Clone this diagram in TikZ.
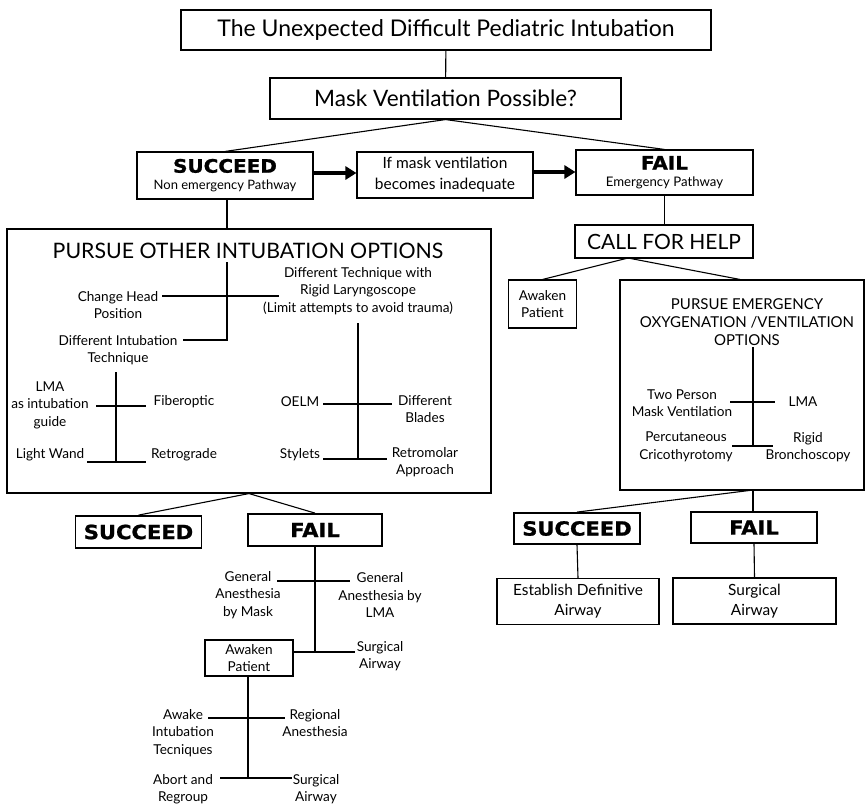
\documentclass[tikz,border=0pt]{standalone}
\usepackage{fontspec}
\setmainfont{Lato}
\newfontfamily\heavy{DejaVu Sans}[FakeStretch=1.08, FakeBold=1.2]
\usetikzlibrary{arrows.meta}
\begin{document}
\begin{tikzpicture}[x=1pt,y=-1pt,
  box/.style={draw, line width=1.1pt, inner sep=0pt, align=center},
  bbox/.style={draw, line width=1.8pt, inner sep=0pt, align=center},
  lab/.style={align=center, inner sep=0pt, font=\fontsize{13.6}{17.5}\selectfont},
  con/.style={line width=1.1pt},
  flow/.style={line width=3.2pt, -{Triangle[length=11pt,width=13pt]}},
  bigb/.style={font=\fontsize{19.5}{22}\selectfont\heavy\bfseries},
]
\useasboundingbox (0,0) rectangle (866,806);

% ---------- top of the chart ----------
\node[box, minimum width=530pt, minimum height=40pt, font=\fontsize{23}{26}\selectfont] (title) at (446,30)
  {The Unexpected Difficult Pediatric Intubation};
\node[box, minimum width=351pt, minimum height=41pt, font=\fontsize{22.6}{26}\selectfont] (mask) at (445.5,98.5)
  {Mask Ventilation Possible?};

\node[box, minimum width=176pt, minimum height=47pt, font=\fontsize{13}{17}\selectfont] (succ) at (225,175.5)
  {{\fontsize{18.5}{18}\selectfont\heavy\bfseries SUCCEED}\\Non emergency Pathway};
\node[box, minimum width=176pt, minimum height=46pt, font=\fontsize{15.5}{21}\selectfont] (inad) at (445,175)
  {If mask ventilation\\becomes inadequate};
\node[box, minimum width=177pt, minimum height=45pt, font=\fontsize{13.2}{17}\selectfont] (fail) at (664.5,172.5)
  {{\fontsize{18.5}{18}\selectfont\heavy\bfseries FAIL}\\Emergency Pathway};

\draw[con] (title) -- (mask);
\draw[con] (mask.south) -- (succ.north);
\draw[con] (mask.south) -- (fail.north);
\draw[flow] (succ.east |- 0,173) -- (inad.west |- 0,173);
\draw[flow] (inad.east |- 0,172) -- (fail.west |- 0,172);

% ---------- non emergency pathway ----------
\node[box, minimum width=484pt, minimum height=264pt] (po) at (249,361) {};
\node[font=\fontsize{21.3}{24}\selectfont, inner sep=0pt] (potitle) at (248,251)
  {PURSUE OTHER INTUBATION OPTIONS};
\draw[con] ([xshift=2pt]succ.south) -- ([xshift=2pt]succ.south |- po.north);

\node[lab] (chp) at (118,305) {Change Head\\Position};
\node[lab] (dtr) at (358,291) {Different Technique with\\Rigid Laryngoscope\\(Limit attempts to avoid trauma)};
\node[lab] (dit) at (118,350) {Different Intubation\\Technique};
\node[lab] (lma) at (50,405) {LMA\\as intubation\\guide};
\node[lab] (fib) at (184,402) {Fiberoptic};
\node[lab] (lw) at (50,455) {Light Wand};
\node[lab] (ret) at (184,455) {Retrograde};
\node[lab] (oelm) at (300,402) {OELM};
\node[lab] (dbl) at (425,409) {Different\\Blades};
\node[lab] (sty) at (300,455) {Stylets};
\node[lab] (rma) at (425,462) {Retromolar\\Approach};

\coordinate (a1) at (227,262);
\coordinate (a2) at (227,340);
\coordinate (a3) at (183,340);
\coordinate (h1l) at (162,296);
\coordinate (h1r) at (279,296);
\draw[con] (a1) -- (a2) -- (a3);
\draw[con] (h1l) -- (h1r);

\coordinate (b1) at (116,372);
\coordinate (b2) at (116,462);
\coordinate (b3l) at (96,406);
\coordinate (b3r) at (146,406);
\coordinate (b4l) at (87,462);
\coordinate (b4r) at (146,462);
\draw[con] (b1) -- (b2);
\draw[con] (b3l) -- (b3r);
\draw[con] (b4l) -- (b4r);

\coordinate (c1) at (358,323);
\coordinate (c2) at (358,459);
\coordinate (c3l) at (323,404);
\coordinate (c3r) at (392,404);
\coordinate (c4l) at (323,459);
\coordinate (c4r) at (387,459);
\draw[con] (c1) -- (c2);
\draw[con] (c3l) -- (c3r);
\draw[con] (c4l) -- (c4r);

\node[bbox, bigb, minimum width=126pt, minimum height=32pt] (succL) at (138.5,532) {SUCCEED};
\node[bbox, bigb, minimum width=134pt, minimum height=32pt] (failL) at (315,530) {FAIL};
\draw[con] (po.south) -- (succL.north);
\draw[con] (po.south) -- (failL.north);

\node[lab] (gam) at (248,595) {General\\Anesthesia\\by Mask};
\node[lab] (gal) at (380,595) {General\\Anesthesia by\\LMA};
\node[box, lab, minimum width=88pt, minimum height=36pt] (awL) at (249,658) {Awaken\\Patient};
\node[lab] (sa1) at (380,656) {Surgical\\Airway};

\coordinate (d2) at (315,652);
\coordinate (d3r) at (355,652);
\coordinate (d4l) at (277,581);
\coordinate (d4r) at (350,581);
\draw[con] (failL.south -| d2) -- (d2);
\draw[con] (awL.east |- d2) -- (d3r);
\draw[con] (d4l) -- (d4r);

\node[lab] (awi) at (183,733) {Awake\\Intubation\\Tecniques};
\node[lab] (reg) at (315,723) {Regional\\Anesthesia};
\node[lab] (abr) at (183,789) {Abort and\\Regroup};
\node[lab] (sa2) at (316,789) {Surgical\\Airway};

\coordinate (e2) at (248,778);
\coordinate (e3l) at (208,718);
\coordinate (e3r) at (285,718);
\coordinate (e4l) at (220,778);
\coordinate (e4r) at (292,778);
\draw[con] (awL.south -| e2) -- (e2);
\draw[con] (e3l) -- (e3r);
\draw[con] (e4l) -- (e4r);

% ---------- emergency pathway ----------
\node[box, minimum width=178pt, minimum height=33pt, font=\fontsize{21}{24}\selectfont] (call) at (664,241.5)
  {CALL FOR HELP};
\draw[con] (fail.south) -- (fail.south |- call.north);

\node[box, lab, minimum width=68pt, minimum height=48pt] (awR) at (542.5,304) {Awaken\\Patient};
\node[box, minimum width=244pt, minimum height=210pt] (pe) at (742,385) {};
\node[align=center, inner sep=0pt, font=\fontsize{15}{18}\selectfont] (petitle) at (747,322)
  {PURSUE EMERGENCY\\OXYGENATION /VENTILATION\\OPTIONS};

\coordinate (f0) at (628,258);
\draw[con] (f0) -- (awR.north);
\draw[con] (f0) -- ([xshift=-2pt]pe.north);

\node[lab] (tpm) at (682,403) {Two Person\\Mask Ventilation};
\node[lab] (lmaR) at (803,402) {LMA};
\node[lab] (pct) at (686,447) {Percutaneous\\Cricothyrotomy};
\node[lab] (rbr) at (808,447) {Rigid\\Bronchoscopy};

\coordinate (g1) at (753,347);
\coordinate (g2) at (753,446);
\coordinate (g3l) at (730,402);
\coordinate (g3r) at (775,402);
\coordinate (g4l) at (732,446);
\coordinate (g4r) at (773,446);
\draw[con] (g1) -- (g2);
\draw[con] (g3l) -- (g3r);
\draw[con] (g4l) -- (g4r);

\node[bbox, bigb, minimum width=126pt, minimum height=31pt] (succR) at (577,528.5) {SUCCEED};
\node[bbox, bigb, minimum width=126pt, minimum height=31pt] (failR) at (754,527.5) {FAIL};
\coordinate (p0) at (753,490);
\draw[con] (p0) -- (succR.north);
\draw[con] (p0) -- (p0 |- failR.north);

\node[box, minimum width=162pt, minimum height=46pt, font=\fontsize{15.4}{20}\selectfont] (est) at (578,601.5)
  {Establish Definitive\\Airway};
\node[box, minimum width=163pt, minimum height=46pt, font=\fontsize{15.4}{20}\selectfont] (surgR) at (754.5,601)
  {Surgical\\Airway};
\draw[con] (succR.south) -- (est.north);
\draw[con] (failR.south) -- (surgR.north);
\end{tikzpicture}
\end{document}
